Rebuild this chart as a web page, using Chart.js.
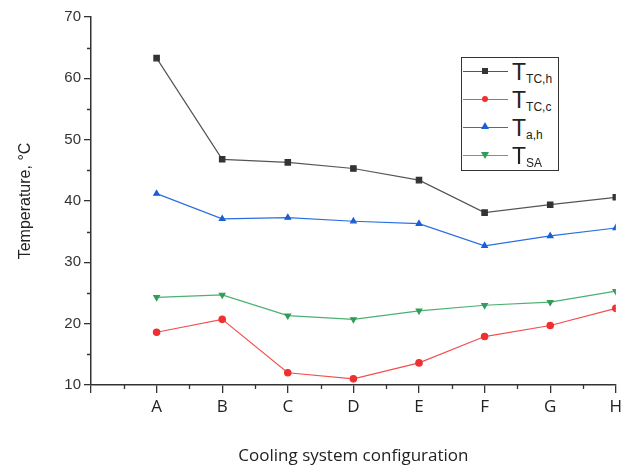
<!DOCTYPE html>
<html>
<head>
<meta charset="utf-8">
<script src="https://cdn.jsdelivr.net/npm/chart.js@4"></script>
<style>
  body { margin: 0; background: #fff; }
  #wrap { position: relative; width: 621px; height: 466px; }
  #legend {
    position: absolute; left: 461px; top: 57px; width: 96px; height: 112px;
    border: 1px solid #333; background: #fff; font-family: "Liberation Sans", Arial, sans-serif;
  }
  .item { position: absolute; left: 0; height: 28px; width: 96px; }
  .line { position: absolute; left: 1px; top: 13px; width: 45px; height: 0; border-top: 1.3px solid; }
  .mk { position: absolute; }
  .txt { position: absolute; left: 50px; top: 0; font-size: 23px; color: #222; line-height: 28px; white-space: nowrap; }
  .txt sub { font-size: 12px; vertical-align: -3px; }
</style>
</head>
<body>
<div id="wrap">
  <canvas id="myChart" width="621" height="466"></canvas>
  <div id="legend"></div>
</div>
<script>
var categories = ['A', 'B', 'C', 'D', 'E', 'F', 'G', 'H'];
var tTCh = [63.3, 46.8, 46.3, 45.3, 43.4, 38.1, 39.4, 40.6];
var tTCc = [18.6, 20.7, 12.0, 11.0, 13.6, 17.9, 19.7, 22.5];
var tah = [41.2, 37.1, 37.3, 36.7, 36.3, 32.7, 34.3, 35.6];
var tSA = [24.3, 24.7, 21.3, 20.7, 22.1, 23.0, 23.5, 25.3];
var yTicks = [10, 20, 30, 40, 50, 60, 70];

var series = [
  { sub: 'TC,h', data: tTCh, color: '#555555', point: '#333333', style: 'rect', rot: 0 },
  { sub: 'TC,c', data: tTCc, color: '#f25050', point: '#f03030', style: 'circle', rot: 0 },
  { sub: 'a,h', data: tah, color: '#2a6fe0', point: '#1a5fd8', style: 'triangle', rot: 0 },
  { sub: 'SA', data: tSA, color: '#4cb072', point: '#2e9e5a', style: 'triangle', rot: 180 }
];

function toPoints(values) {
  var pts = [];
  for (var i = 0; i < values.length; i++) {
    pts.push({ x: i + 1, y: values[i] });
  }
  return pts;
}

var datasets = series.map(function (s) {
  return {
    label: 'T' + s.sub,
    data: toPoints(s.data),
    borderColor: s.color,
    backgroundColor: s.point,
    pointBorderColor: s.point,
    pointStyle: s.style,
    pointRotation: s.rot,
    pointRadius: s.style === 'rect' ? 3.8 : 3.2,
    borderWidth: 1.2,
    tension: 0
  };
});

// small minor ticks between the labelled ones
var minorTicks = {
  id: 'minorTicks',
  afterDraw: function (chart) {
    var ctx = chart.ctx;
    var x = chart.scales.x, y = chart.scales.y;
    ctx.save();
    ctx.strokeStyle = '#333';
    ctx.lineWidth = 1.3;
    ctx.beginPath();
    for (var i = 0; i < categories.length; i++) {
      var px = Math.round(x.getPixelForValue(i + 0.5)) + 0.5;
      ctx.moveTo(px, y.bottom);
      ctx.lineTo(px, y.bottom + 4);
    }
    for (var j = 0; j < yTicks.length - 1; j++) {
      var py = Math.round(y.getPixelForValue(yTicks[j] + 5)) + 0.5;
      ctx.moveTo(x.left, py);
      ctx.lineTo(x.left - 4, py);
    }
    ctx.stroke();
    ctx.restore();
  }
};

var ctx = document.getElementById('myChart').getContext('2d');
var myChart = new Chart(ctx, {
  type: 'line',
  data: { datasets: datasets },
  options: {
    responsive: false,
    animation: false,
    layout: { padding: { top: 17, right: 4, left: 0, bottom: 0 } },
    plugins: { legend: { display: false }, tooltip: { enabled: false } },
    scales: {
      x: {
        type: 'linear',
        min: 0,
        max: categories.length,
        afterFit: function (scale) {
          scale.height = 81;
          scale.paddingRight = 0;
        },
        afterBuildTicks: function (scale) {
          var t = [];
          for (var i = 0; i <= categories.length; i++) t.push({ value: i });
          scale.ticks = t;
        },
        ticks: {
          padding: 4,
          maxRotation: 0,
          autoSkip: false,
          color: '#222',
          font: { family: '"Open Sans", sans-serif', size: 17 },
          callback: function (v) { return v >= 1 ? categories[v - 1] : ''; }
        },
        grid: { drawOnChartArea: false, drawTicks: true, tickLength: 8, color: '#333', lineWidth: 1.3 },
        border: { display: true, color: '#333', width: 1.5 },
        title: {
          display: true,
          text: 'Cooling system configuration',
          color: '#222',
          font: { family: '"Open Sans", sans-serif', size: 17 },
          padding: { top: 14, bottom: 0 }
        }
      },
      y: {
        min: 10,
        max: 70,
        afterFit: function (scale) { scale.width = 91; },
        ticks: {
          stepSize: 10,
          padding: 3,
          color: '#333',
          font: { family: '"Liberation Sans", Arial, sans-serif', size: 15 }
        },
        grid: { drawOnChartArea: false, drawTicks: true, tickLength: 7, color: '#333', lineWidth: 1.3 },
        border: { display: true, color: '#333', width: 1.5 },
        title: {
          display: true,
          text: 'Temperature, °C',
          color: '#222',
          font: { family: '"Liberation Sans", Arial, sans-serif', size: 16 },
          padding: { top: 16, bottom: 0 }
        }
      }
    }
  },
  plugins: [minorTicks]
});

// legend box
var legend = document.getElementById('legend');
series.forEach(function (s, i) {
  var item = document.createElement('div');
  item.className = 'item';
  item.style.top = (i * 28) + 'px';
  var mk;
  if (s.style === 'rect') {
    mk = '<div class="mk" style="left:20px;top:10px;width:6px;height:6px;background:' + s.point + '"></div>';
  } else if (s.style === 'circle') {
    mk = '<div class="mk" style="left:20px;top:10px;width:6px;height:6px;border-radius:50%;background:' + s.point + '"></div>';
  } else if (s.rot === 0) {
    mk = '<div class="mk" style="left:19px;top:8px;width:0;height:0;border-left:4px solid transparent;border-right:4px solid transparent;border-bottom:7px solid ' + s.point + '"></div>';
  } else {
    mk = '<div class="mk" style="left:19px;top:10px;width:0;height:0;border-left:4px solid transparent;border-right:4px solid transparent;border-top:7px solid ' + s.point + '"></div>';
  }
  item.innerHTML = '<div class="line" style="border-color:' + s.color + '"></div>' + mk +
    '<div class="txt">T<sub>' + s.sub + '</sub></div>';
  legend.appendChild(item);
});
</script>
</body>
</html>
